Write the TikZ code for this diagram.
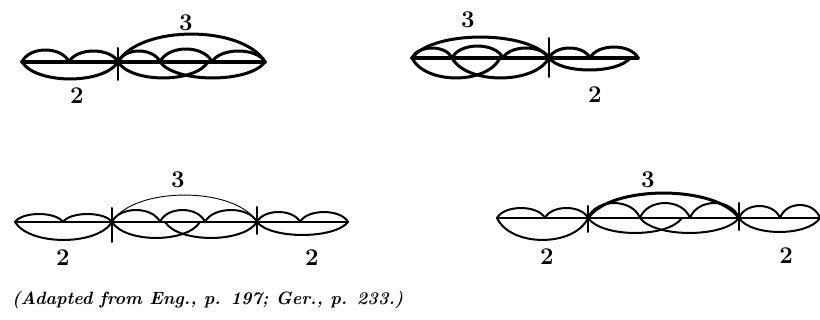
\documentclass[tikz,border=0pt]{standalone}
\newcommand{\myarc}[5][]{\draw[#1] (#2,#4) .. controls ({#2+(#3-#2)*0.15},{#4-1.33*(#5)}) and ({#3-(#3-#2)*0.15},{#4-1.33*(#5)}) .. (#3,#4);}
\begin{document}
\begin{tikzpicture}[x=1pt,y=-1pt,line cap=round,line join=round]
\useasboundingbox (0,0) rectangle (820,320);
\tikzset{
  lbl/.style={font=\fontsize{24}{24}\selectfont\bfseries,inner sep=0pt},
  captext/.style={font=\fontsize{17.8}{18}\selectfont\bfseries\itshape,inner sep=0pt,anchor=base west},
  heavy/.style={line width=3pt},
  medium/.style={line width=2pt},
  light/.style={line width=0.9pt}
}
% ---------- Diagram 1 (top left) ----------
\draw[line width=3.6pt] (22,62) -- (265,62);
\draw[medium] (118,48) -- (118,80);
\begin{scope}[every path/.style={heavy}]
\myarc{22}{69}{62}{12}
\myarc{69}{118}{62}{11}
\myarc{22}{118}{62}{-17}
\myarc{118}{265}{62}{28}
\myarc{118}{160}{62}{11}
\myarc{160}{212}{62}{13}
\myarc{212}{265}{62}{11}
\myarc{118}{208}{62}{-16}
\myarc{160}{265}{62}{-16}
\end{scope}
\node[lbl] (t3a) at (186,23) {3};
\node[lbl] (t2a) at (77,96) {2};
% ---------- Diagram 2 (top right) ----------
\draw[line width=3.6pt] (412,58) -- (638,58);
\draw[medium] (549,38) -- (549,77);
\begin{scope}[every path/.style={heavy}]
\myarc{412}{549}{58}{21}
\myarc{412}{452}{58}{10}
\myarc{452}{503}{58}{12}
\myarc{503}{549}{58}{10}
\myarc{412}{500}{58}{-20}
\myarc{452}{549}{58}{-20}
\myarc{549}{590}{58}{10}
\myarc{590}{638}{58}{11}
\myarc{549}{630}{58}{-12}
\end{scope}
\node[lbl] (t3b) at (468,20) {3};
\node[lbl] (t2b) at (595,95) {2};
% ---------- Diagram 3 (bottom left) ----------
\draw[medium] (15,222) -- (348,222);
\draw[medium] (112,208) -- (112,242);
\draw[medium] (257,207) -- (257,234);
\begin{scope}[every path/.style={medium}]
\myarc{15}{63}{222}{8}
\myarc{63}{112}{222}{8}
\myarc{15}{112}{222}{-18}
\myarc{112}{160}{222}{12}
\myarc{160}{205}{222}{12}
\myarc{205}{257}{222}{12}
\myarc{112}{200}{222}{-16}
\myarc{165}{257}{222}{-16}
\myarc{257}{300}{222}{10}
\myarc{300}{348}{222}{10}
\myarc{257}{348}{222}{-13}
\end{scope}
\myarc[light]{112}{257}{222}{27}
\node[lbl] (t3c) at (178,180) {3};
\node[lbl] (t2c) at (63,258) {2};
\node[lbl] (t2d) at (312,258) {2};
% ---------- Diagram 4 (bottom right) ----------
\draw[line width=1.5pt] (497,218) -- (820,218);
\draw[medium] (588,206) -- (588,232);
\draw[medium] (739,203) -- (739,230);
\begin{scope}[every path/.style={medium}]
\myarc{497}{545}{218}{10}
\myarc{545}{588}{218}{10}
\myarc{497}{588}{218}{-22}
\myarc{588}{640}{218}{15}
\myarc{640}{690}{218}{15}
\myarc{690}{739}{218}{15}
\myarc{588}{682}{218}{-15}
\myarc{640}{739}{218}{-15}
\myarc{739}{780}{218}{12}
\myarc{780}{820}{218}{13}
\myarc{739}{820}{218}{-14}
\end{scope}
\myarc[heavy]{588}{739}{218}{25}
\node[lbl] (t3d) at (648,180) {3};
\node[lbl] (t2e) at (547,257) {2};
\node[lbl] (t2f) at (786,256) {2};
% ---------- Caption ----------
\node[captext] (caption) at (12,305) {(Adapted from Eng., p. 197; Ger., p. 233.)};
\end{tikzpicture}
\end{document}
